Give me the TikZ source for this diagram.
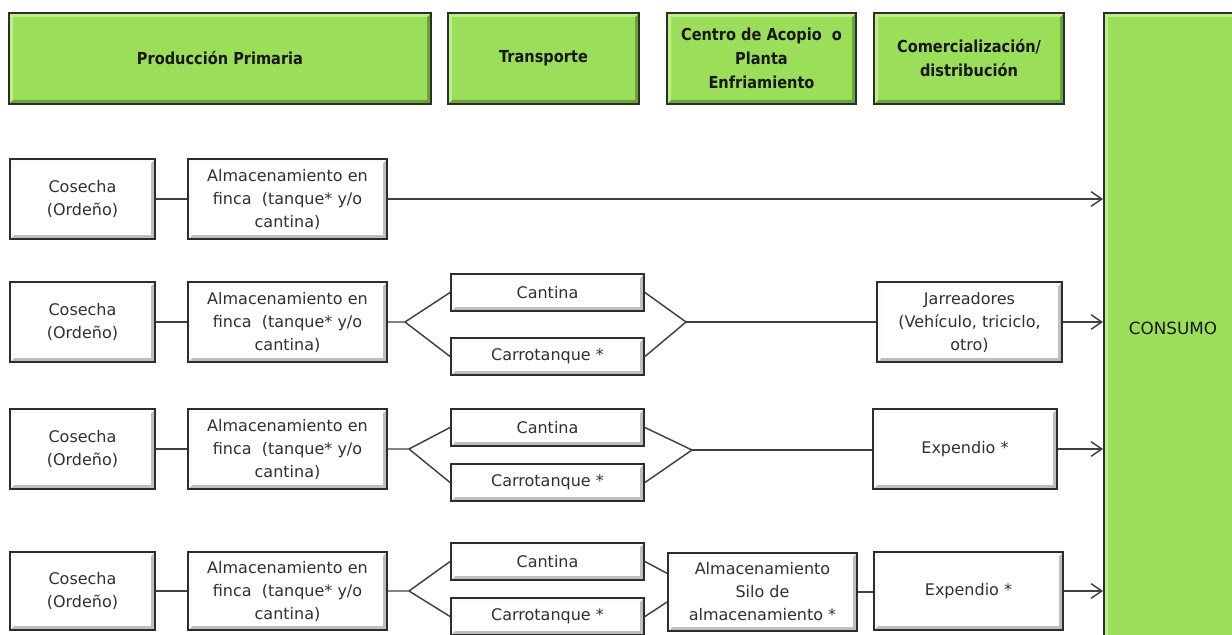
\documentclass[tikz,border=0pt]{standalone}
\usepackage{fontspec}
\setmainfont{DejaVu Sans}
\newfontfamily\hdrfont{DejaVu Sans}[FakeStretch=0.88]
\usetikzlibrary{arrows.meta,calc}
\definecolor{hgreen}{RGB}{155,222,90}
\definecolor{hlight}{RGB}{188,240,135}
\definecolor{hdark}{RGB}{105,165,52}
\definecolor{bordc}{RGB}{45,45,45}
\definecolor{linec}{RGB}{64,64,64}
\definecolor{txtc}{RGB}{48,48,48}
\definecolor{wdark}{RGB}{190,190,190}
\definecolor{wlight}{RGB}{250,250,250}
\tikzset{
  bevel/.style 2 args={path picture={
    \fill[#1] (path picture bounding box.south west) -- (path picture bounding box.south east)
      -- (path picture bounding box.north east) -- ([xshift=-3pt,yshift=-3pt]path picture bounding box.north east)
      -- ([xshift=-3pt,yshift=3pt]path picture bounding box.south east) -- ([xshift=3pt,yshift=3pt]path picture bounding box.south west) -- cycle;
    \fill[#2] (path picture bounding box.south west) -- (path picture bounding box.north west)
      -- (path picture bounding box.north east) -- ([xshift=-3pt,yshift=-3pt]path picture bounding box.north east)
      -- ([xshift=3pt,yshift=-3pt]path picture bounding box.north west) -- ([xshift=3pt,yshift=3pt]path picture bounding box.south west) -- cycle;
  }},
  hdr/.style={draw=bordc, line width=1.5pt, fill=hgreen, bevel={hdark}{hlight}, inner sep=0pt,
    align=center, text=black!90, font=\fontsize{12.4}{18}\hdrfont\bfseries, minimum height=68.25pt},
  wbox/.style={draw=bordc, line width=1.4pt, fill=white, bevel={wdark}{wlight}, inner sep=0pt,
    align=center, text=txtc, font=\fontsize{12}{17.25}\selectfont, minimum height=60pt},
  cosbox/.style={wbox, minimum width=108.75pt},
  almbox/.style={wbox, minimum width=149.25pt},
  trbox/.style={wbox, minimum width=144.75pt, minimum height=27.75pt},
  ln/.style={draw=linec, line width=1.1pt},
  arr/.style={ln, -{Straight Barb[length=8pt,width=11pt,line width=1.1pt]}}
}
\begin{document}
\begin{tikzpicture}[x=0.75pt,y=-0.75pt]
\useasboundingbox (0,0) rectangle (1232,635);
\clip (0,0) rectangle (1232,635);
% headers
\node[hdr, minimum width=316.5pt] (h1) at (220,58.5) {Producción Primaria};
\node[hdr, minimum width=143.25pt] (h2) at (543.5,58.5) {Transporte};
\node[hdr, minimum width=141.75pt] (h3) at (761.5,58.5) {Centro de Acopio \ o\\Planta\\Enfriamiento};
\node[hdr, minimum width=142.5pt] (h4) at (969,58.5) {Comercialización/\\distribución};
\node[hdr, font=\fontsize{12.6}{18}\selectfont, minimum width=103.5pt, minimum height=472.5pt] (cons) at (1173,328) {CONSUMO};
% row 1
\node[cosbox] (c1) at (82.5,199) {Cosecha\\(Ordeño)};
\node[almbox] (a1) at (287.5,199) {Almacenamiento en\\finca \ (tanque* y/o\\cantina)};
\draw[ln] (c1) -- (a1);
\draw[arr] (a1) -- (a1 -| cons.west);
% row 2
\node[cosbox] (c2) at (82.5,322) {Cosecha\\(Ordeño)};
\node[almbox] (a2) at (287.5,322) {Almacenamiento en\\finca \ (tanque* y/o\\cantina)};
\node[trbox] (k2) at (547.5,292.5) {Cantina};
\node[trbox] (t2) at (547.5,356.5) {Carrotanque *};
\node[wbox, minimum width=138.75pt] (j2) at (969.5,322) {Jarreadores\\(Vehículo, triciclo,\\otro)};
\coordinate (f2) at (405,322);
\coordinate (m2) at (686,322);
\draw[ln] (c2) -- (a2);
\draw[ln] (a2.east) -- (f2) -- (k2.west);
\draw[ln] (f2) -- (t2.west);
\draw[ln] (k2.east) -- (m2) -- (t2.east);
\draw[ln] (m2) -- (j2.west);
\draw[arr] (j2) -- (j2 -| cons.west);
% row 3
\node[cosbox] (c3) at (82.5,449) {Cosecha\\(Ordeño)};
\node[almbox] (a3) at (287.5,449) {Almacenamiento en\\finca \ (tanque* y/o\\cantina)};
\node[trbox] (k3) at (547.5,427.5) {Cantina};
\node[trbox] (t3) at (547.5,482.5) {Carrotanque *};
\node[wbox, minimum width=138pt] (e3) at (965,449) {Expendio *};
\coordinate (f3) at (409,449);
\coordinate (m3) at (692,450);
\draw[ln] (c3) -- (a3);
\draw[ln] (a3.east) -- (f3) -- (k3.west);
\draw[ln] (f3) -- (t3.west);
\draw[ln] (k3.east) -- (m3) -- (t3.east);
\draw[ln] (m3) -- (m3 -| e3.west);
\draw[arr] (e3) -- (e3 -| cons.west);
% row 4
\node[cosbox, minimum height=58.5pt] (c4) at (82.5,591) {Cosecha\\(Ordeño)};
\node[almbox, minimum height=58.5pt] (a4) at (287.5,591) {Almacenamiento en\\finca \ (tanque* y/o\\cantina)};
\node[trbox] (k4) at (547.5,561.5) {Cantina};
\node[trbox] (t4) at (547.5,616.5) {Carrotanque *};
\node[wbox, minimum width=141.75pt, minimum height=58.5pt] (s4) at (762.5,592) {Almacenamiento\\Silo de\\almacenamiento *};
\node[wbox, minimum width=141.75pt, minimum height=58.5pt] (e4) at (968.5,591) {Expendio *};
\coordinate (f4) at (409,591);
\draw[ln] (c4) -- (a4);
\draw[ln] (a4.east) -- (f4) -- (k4.west);
\draw[ln] (f4) -- (t4.west);
\draw[ln] (k4.east) -- ([yshift=14pt]s4.west);
\draw[ln] (t4.east) -- ([yshift=-7.5pt]s4.west);
\draw[ln] (s4.east) -- (s4.east -| e4.west);
\draw[arr] (e4) -- (e4 -| cons.west);
\end{tikzpicture}
\end{document}
